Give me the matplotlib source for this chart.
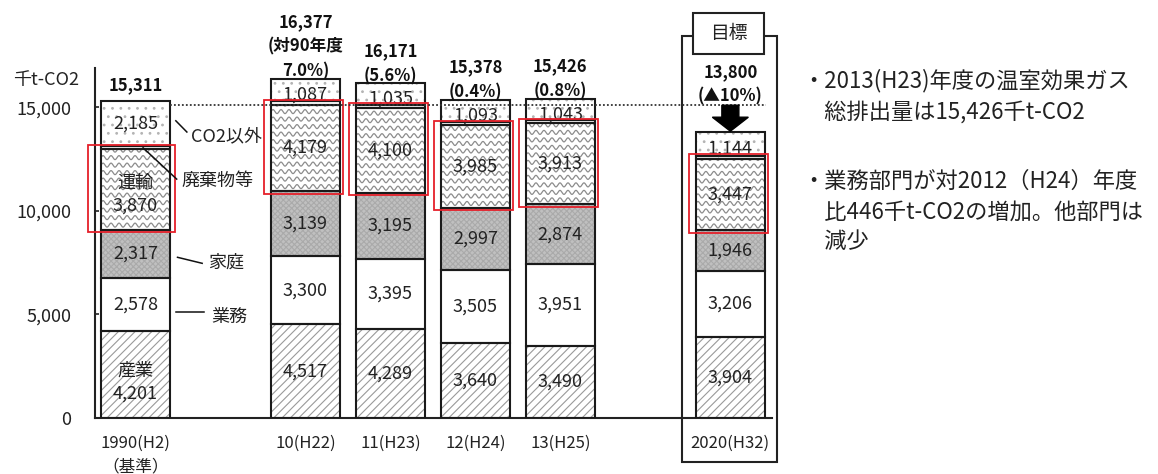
import matplotlib
matplotlib.use('Agg')
import matplotlib.pyplot as plt
import numpy as np
from matplotlib.patches import Rectangle

plt.rcParams['font.family'] = ['Noto Sans CJK JP', 'DejaVu Sans']
plt.rcParams['hatch.linewidth'] = 0.8

# ---------------- data ----------------
categories = ['1990(H2)\n（基準）', '10(H22)', '11(H23)', '12(H24)', '13(H25)', '2020(H32)']
industry = [4201, 4517, 4289, 3640, 3490, 3904]      # 産業
business = [2578, 3300, 3395, 3505, 3951, 3206]      # 業務
household = [2317, 3139, 3195, 2997, 2874, 1946]     # 家庭
transport = [3870, 4179, 4100, 3985, 3913, 3447]     # 運輸
waste = [160, 155, 157, 158, 155, 153]               # 廃棄物等
non_co2 = [2185, 1087, 1035, 1093, 1043, 1144]       # CO2以外
totals = [15311, 16377, 16171, 15378, 15426, 13800]
changes = ['', '(対90年度\n7.0%)', '(5.6%)', '(0.4%)', '(0.8%)', '(▲10%)']
series_names = ['産業', '業務', '家庭', '運輸', '廃棄物等', 'CO2以外']
y_ticks = [0, 5000, 10000, 15000]
ref_level = 15100
unit_label = '千t-CO2'
target_label = '目標'
notes = ['・2013(H23)年度の温室効果ガス',
         '　総排出量は15,426千t-CO2',
         '・業務部門が対2012（H24）年度',
         '　比446千t-CO2の増加。他部門は',
         '　減少']

# ---------------- layout ----------------
W, H = 1158, 474
fig = plt.figure(figsize=(W / 100, H / 100), dpi=100)
ax = fig.add_axes([95 / W, 1 - 418 / H, (772 - 95) / W, (418 - 68) / H])
x = np.array([0, 2, 3, 4, 5, 7], dtype=float)
w = 0.81
ax.set_xlim(-0.476, 7.49)
ax.set_ylim(0, 16900)

for s in ['top', 'right']:
    ax.spines[s].set_visible(False)
for s in ['left', 'bottom']:
    ax.spines[s].set_linewidth(1.5)
    ax.spines[s].set_color('#222222')

ax.set_yticks(y_ticks)
ax.set_yticklabels([f'{v:,}' for v in y_ticks])
ax.tick_params(axis='y', direction='in', length=3, width=1.2, pad=17,
               labelsize=13, colors='#222222')
ax.set_xticks(x)
ax.set_xticklabels(categories)
ax.tick_params(axis='x', length=0, pad=12, labelsize=12, colors='#222222')
for t in ax.get_xticklabels():
    t.set_linespacing(1.5)

fig.canvas.draw()
p0 = ax.transData.transform((0, 0))
p1 = ax.transData.transform((1, 1000))
px_x = p1[0] - p0[0]            # pixels per x unit
px_y = (p1[1] - p0[1]) / 1000   # pixels per y unit

styles = [
    dict(face='white', hatch='////', hc='#9a9a9a'),
    dict(face='white', hatch=None, hc='none'),
    dict(face='#c0c0c0', hatch='xxxxxx', hc='#aaaaaa'),
    dict(face='white', hatch=None, hc='none'),
    dict(face='white', hatch=None, hc='none'),
    dict(face='white', hatch='..', hc='#b4b4b4'),
]
series = [industry, business, household, transport, waste, non_co2]
bottoms = []
bottom = np.zeros(len(x))
for vals, st in zip(series, styles):
    vals = np.array(vals, dtype=float)
    bottoms.append(bottom.copy())
    ax.bar(x, vals, w, bottom=bottom, color=st['face'], edgecolor=st['hc'],
           hatch=st['hatch'], linewidth=0, zorder=2)
    ax.bar(x, vals, w, bottom=bottom, fill=False, edgecolor='#1a1a1a',
           linewidth=1.5, zorder=4)
    bottom = bottom + vals

# wavy pattern for transport
tr_bottom = bottoms[3]
for i in range(len(x)):
    x0, x1 = x[i] - w / 2, x[i] + w / 2
    y0, y1 = tr_bottom[i], tr_bottom[i] + transport[i]
    clip = Rectangle((x0, y0), w, transport[i], transform=ax.transData,
                     facecolor='none', edgecolor='none')
    ax.add_patch(clip)
    xs = np.linspace(x0, x1, 300)
    step = 7.5 / px_y
    amp = 2.0 / px_y
    yy = y0 + step * 0.6
    while yy < y1 + step:
        ys = yy + amp * np.sin(2 * np.pi * (xs - x0) * px_x / 8.0)
        ln, = ax.plot(xs, ys, color='#8c8c8c', lw=0.9, zorder=3)
        ln.set_clip_path(clip)
        yy += step

# segment labels
fs_in = 13
for i in range(len(x)):
    for k, vals in enumerate(series):
        if k == 4:
            continue
        yc = bottoms[k][i] + vals[i] / 2
        txt = f'{vals[i]:,}'
        dy = 0
        if i == 0 and k in (0, 3):
            txt = f'{series_names[k]}\n{vals[i]:,}'
            dy = -8 if k == 0 else -5
        if k == 5 and i > 0:
            dy = -5
        ax.annotate(txt, (x[i], yc), xytext=(0, dy * 0.72), textcoords='offset points',
                    ha='center', va='center', fontsize=fs_in,
                    color='#222222', zorder=6, linespacing=1.35)

# red boxes around transport (+waste)
for i in range(len(x)):
    padl = 0.15 if i == 0 else 0.08
    padr = 0.06 if i == 0 else 0.04
    yb = tr_bottom[i] - 2.5 / px_y
    ht = transport[i] + waste[i] + 4 / px_y
    ax.add_patch(Rectangle((x[i] - w / 2 - padl, yb), w + padl + padr, ht,
                           fill=False, edgecolor='#e5202a', lw=1.3, zorder=7,
                           clip_on=False))

# reference dotted line
ax.plot([x[0] + w / 2, x[5] + w / 2 + 0.01], [ref_level, ref_level],
        ls=(0, (1, 1.2)), color='#333333', lw=1.3, zorder=8)

# totals
for i in range(len(x)):
    txt = f'{totals[i]:,}' + ('\n' + changes[i] if changes[i] else '')
    off = 19 if i == 5 else (5 if i == 0 else -1.5)
    ax.annotate(txt, (x[i], totals[i]), xytext=(0, off), textcoords='offset points',
                ha='center', va='bottom', fontsize=12, fontweight='bold',
                color='#111111', linespacing=1.5, annotation_clip=False, zorder=9)

# target arrow
ax.arrow(x[5], totals[5] + 27 / px_y, 0, -(26 / px_y), width=17 / px_x,
         head_width=36 / px_x, head_length=14 / px_y, length_includes_head=True,
         color='black', zorder=9, clip_on=False)

# target box
bx0 = x[5] - 0.57
bx1 = x[5] + 0.545
by_top = (418.3 - 36) / px_y
by_bot = -(462 - 418.3) / px_y
ax.add_patch(Rectangle((bx0, by_bot), bx1 - bx0, by_top - by_bot, fill=False,
                       edgecolor='#222222', lw=1.5, zorder=1, clip_on=False))
hx0 = x[5] - 0.44
hx1 = x[5] + 0.40
hy0 = (418.3 - 54) / px_y
hy1 = (418.3 - 13) / px_y
ax.add_patch(Rectangle((hx0, hy0), hx1 - hx0, hy1 - hy0, facecolor='white',
                       edgecolor='#222222', lw=1.5, zorder=10, clip_on=False))
ax.text((hx0 + hx1) / 2, (hy0 + hy1) / 2, target_label, ha='center', va='center',
        fontsize=13.5, color='#222222', zorder=11)

# legend leader lines for 1990 bar
r = x[0] + w / 2
leaders = [
    (5, (r + 0.07, 14351), (r + 0.20, 13809), (r + 0.25, 13616)),
    (4, (x[0] + 0.09, 13046), (r + 0.08, 11535), (r + 0.14, 11438)),
    (2, (r + 0.09, 7759), (r + 0.38, 7469), (r + 0.45, 7517)),
    (1, (r + 0.07, 5097), (r + 0.40, 5097), (r + 0.49, 4904)),
]
for k, a, b, t in leaders:
    ax.plot([a[0], b[0]], [a[1], b[1]], color='#111111', lw=1.1, zorder=8,
            clip_on=False)
    ax.text(t[0], t[1], series_names[k], ha='left', va='center', fontsize=13,
            color='#222222', zorder=8)

# unit label
fig.text(46 / W, 1 - 80 / H, unit_label, ha='center', va='center', fontsize=13,
         color='#222222')

# notes on the right
note_y = [81, 112, 181, 212, 241]
for t, yp in zip(notes, note_y):
    fig.text(802 / W, 1 - yp / H, t, ha='left', va='center', fontsize=16,
             color='#222222')

fig.savefig('out.png', dpi=100)
